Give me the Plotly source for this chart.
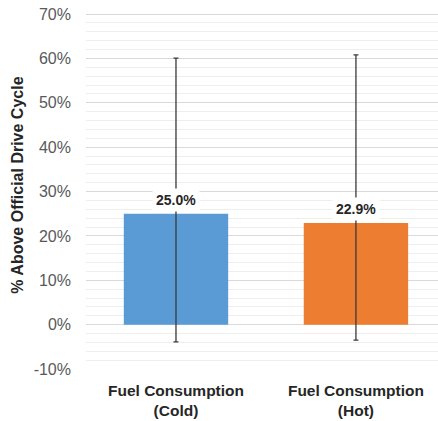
import plotly.graph_objects as go

categories = ["Fuel Consumption<br>(Cold)", "Fuel Consumption<br>(Hot)"]
values = [25.0, 22.9]
err_plus = [35.1, 37.9]
err_minus = [28.9, 26.4]
bar_colors = ["#5B9BD5", "#ED7D31"]
labels = ["25.0%", "22.9%"]
y_ticks = [-10, 0, 10, 20, 30, 40, 50, 60, 70]
y_tick_text = ["-10%", "0%", "10%", "20%", "30%", "40%", "50%", "60%", "70%"]
y_title = "% Above Official Drive Cycle"

fig = go.Figure()
fig.add_trace(go.Bar(
    x=categories, y=values,
    marker=dict(color=bar_colors, line=dict(width=0)),
    width=0.58,
    error_y=dict(type="data", symmetric=False, array=err_plus, arrayminus=err_minus,
                 color="#3a3a3a", thickness=1.3, width=2.5),
    hoverinfo="skip",
))

for c, v, t in zip(categories, values, labels):
    fig.add_annotation(x=c, y=v, text="<b>" + t + "</b>", showarrow=False,
                       yshift=14, bgcolor="white", borderpad=3,
                       font=dict(family="Liberation Sans, Arial", size=14, color="#262626"))

fig.add_annotation(xref="paper", yref="paper", x=-0.193, y=0.515,
                   xanchor="center", yanchor="middle", textangle=-90,
                   text="<b>" + y_title + "</b>", showarrow=False,
                   font=dict(family="Liberation Sans, Arial", size=16, color="#262626"))

fig.update_layout(
    width=438, height=421,
    margin=dict(l=86, r=0, t=13, b=52, autoexpand=False),
    plot_bgcolor="white", paper_bgcolor="white",
    showlegend=False,
    font=dict(family="Liberation Sans, Arial", color="#404040"),
    xaxis=dict(range=[-0.5, 1.456], showgrid=False, zeroline=False, showline=False,
               ticks="", tickfont=dict(size=15.5, color="#262626"),
               ticklabelstandoff=10, automargin=False),
    yaxis=dict(range=[-10, 70.25], tickvals=y_ticks, ticktext=y_tick_text,
               showgrid=True, gridcolor="#d9d9d9", gridwidth=1.3,
               zeroline=False, showline=False, ticks="",
               tickfont=dict(size=16, color="#595959"),
               ticklabelstandoff=14, automargin=False,
               minor=dict(dtick=2, showgrid=True, gridcolor="#eeeeee", gridwidth=1)),
)
fig.update_xaxes(tickprefix="<b>", ticksuffix="</b>")

fig.write_html("out.html", config={"displayModeBar": False},
               post_script="document.body.style.margin='0';")
